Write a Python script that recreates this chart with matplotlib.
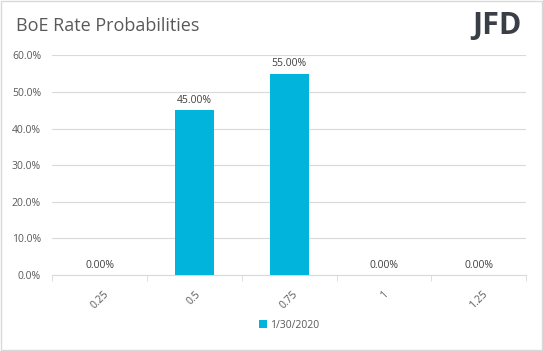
import matplotlib.pyplot as plt
from matplotlib.patches import Rectangle

# Data
rates = ["0.25", "0.5", "0.75", "1", "1.25"]
probs = [0.0, 45.0, 55.0, 0.0, 0.0]
series_name = "1/30/2020"

plt.rcParams['font.family'] = ['Open Sans', 'DejaVu Sans']
txt = "#595959"

fig = plt.figure(figsize=(5.43, 3.51), dpi=100)
fig.patches.append(Rectangle((0.002, 0.003), 0.996, 0.994, transform=fig.transFigure,
                             fill=False, edgecolor="#D9D9D9", linewidth=1))

ax = fig.add_axes([0.096, 0.2165, 0.873, 0.6256])
x = range(len(rates))
bars = ax.bar(x, probs, width=0.41, color="#00B4DC", label=series_name, zorder=3)

for xi, v in zip(x, probs):
    ax.text(xi, v + 1.2, f"{v:.2f}%", ha="center", va="bottom", fontsize=7.5, color="#404040")

ax.set_ylim(0, 60)
ax.set_xlim(-0.5, len(rates) - 0.5)
ax.set_yticks(range(0, 61, 10))
ax.set_yticklabels([f"{t:.1f}%" for t in range(0, 61, 10)], fontsize=7.5, color=txt)
ax.yaxis.grid(True, color="#D9D9D9", linewidth=0.8, zorder=0)
ax.tick_params(axis="y", length=0, pad=8)

ax.set_xticks(x)
ax.set_xticklabels(rates, rotation=45, fontsize=7.5, color=txt)
ax.set_xticks([i - 0.5 for i in range(len(rates) + 1)], minor=True)
ax.tick_params(axis="x", which="major", length=0, pad=10)
ax.tick_params(axis="x", which="minor", length=4, color="#D9D9D9")

for s in ["top", "right", "left"]:
    ax.spines[s].set_visible(False)
ax.spines["bottom"].set_color("#D9D9D9")

fig.text(0.03, 0.925, "BoE Rate Probabilities", fontsize=13, color=txt, va="center")
fig.text(0.96, 0.925, "JFD", fontsize=22, fontweight="bold", color="#3A3F47",
         ha="right", va="center")

ax.legend(loc="center", bbox_to_anchor=(0.5, -0.228), frameon=False,
          fontsize=7.5, labelcolor=txt, handlelength=0.7, handleheight=0.7,
          handletextpad=0.3)

fig.savefig("out.png", dpi=100)
